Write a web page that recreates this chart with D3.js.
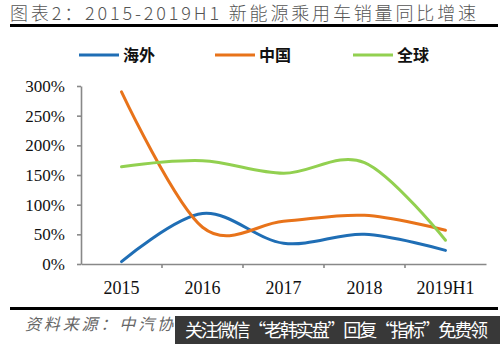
<!DOCTYPE html>
<html><head><meta charset="utf-8">
<script src="https://cdn.jsdelivr.net/npm/d3@7"></script>
<style>
html,body{margin:0;padding:0;background:#fff;}
svg{display:block;}
</style></head>
<body>
<svg id="chart" width="500" height="344"></svg>
<script>
const categories = ["2015", "2016", "2017", "2018", "2019H1"];
const overseas = [4, 85, 35, 50, 23];
const china = [290, 62, 72, 82, 57];
const world = [164, 174, 153, 171, 40];
const yTicks = [0, 50, 100, 150, 200, 250, 300];
const seriesNames = ["海外", "中国", "全球"];
const seriesColors = ["#1F6EB5", "#E8731A", "#92D050"];

const svg = d3.select("#chart");
const plot = {left: 81, right: 486, top: 86, bottom: 264};

// title
svg.append("text")
  .attr("x", 10).attr("y", 20)
  .attr("textLength", 466).attr("lengthAdjust", "spacing")
  .style("font-family", "'Noto Sans CJK SC', sans-serif")
  .style("font-size", "18px").style("font-weight", "300").style("fill", "#555")
  .text("图表2：2015-2019H1 新能源乘用车销量同比增速");
svg.append("rect").attr("x", 10).attr("y", 24).attr("width", 488).attr("height", 3).attr("fill", "#000");

// scales
const x = d3.scaleBand().domain(categories).range([plot.left, plot.right]).padding(0);
const y = d3.scaleLinear().domain([0, 300]).range([plot.bottom, plot.top]);

// y axis
const yAxis = svg.append("g").attr("transform", `translate(${plot.left},0)`)
  .call(d3.axisLeft(y).tickValues(yTicks).tickFormat(d => d + "%").tickSize(4).tickPadding(12).tickSizeOuter(0));
yAxis.selectAll("path,line").attr("stroke", "#888").attr("stroke-width", 1.6);
yAxis.selectAll("text").style("font-family", "'Liberation Serif', serif").style("font-size", "17px").style("fill", "#111");

// x axis
const xAxis = svg.append("g").attr("transform", `translate(0,${plot.bottom})`)
  .call(d3.axisBottom(x).tickSize(0).tickPadding(17).tickSizeOuter(0));
xAxis.select("path").attr("stroke", "#888").attr("stroke-width", 1.6);
xAxis.selectAll("text").style("font-family", "'Liberation Serif', serif").style("font-size", "18px").style("fill", "#111");
xAxis.selectAll(".bt").data(categories.slice(1)).enter().append("line")
  .attr("x1", d => x(d)).attr("x2", d => x(d)).attr("y1", 0).attr("y2", 4)
  .attr("stroke", "#888").attr("stroke-width", 1.6);

// lines
const allSeries = [overseas, china, world];
const line = d3.line().x((d, i) => x(categories[i]) + x.bandwidth() / 2).y(d => y(d)).curve(d3.curveCardinal.tension(0));
allSeries.forEach((s, k) => {
  svg.append("path").datum(s).attr("d", line)
    .attr("fill", "none").attr("stroke", seriesColors[k]).attr("stroke-width", 3)
    .attr("stroke-linecap", "round").attr("stroke-linejoin", "round");
});

// legend
const legendX = [79, 215, 353];
seriesNames.forEach((n, k) => {
  const g = svg.append("g").attr("transform", `translate(${legendX[k]},55)`);
  g.append("line").attr("x1", 0).attr("x2", 40).attr("y1", 0).attr("y2", 0)
    .attr("stroke", seriesColors[k]).attr("stroke-width", 3);
  g.append("text").attr("x", 44).attr("y", 6)
    .style("font-family", "'Noto Sans CJK SC', sans-serif").style("font-weight", "bold")
    .style("font-size", "16px").style("fill", "#111").text(n);
});

// bottom rule and source
svg.append("rect").attr("x", 10).attr("y", 307).attr("width", 488).attr("height", 3).attr("fill", "#000");
svg.append("text").attr("x", 25).attr("y", 330)
  .attr("textLength", 148).attr("lengthAdjust", "spacing")
  .style("font-family", "'Noto Sans CJK SC', sans-serif").style("font-style", "italic")
  .style("font-size", "16px").style("fill", "#666")
  .text("资料来源：中汽协");
svg.append("rect").attr("x", 175).attr("y", 316).attr("width", 325).attr("height", 28).attr("fill", "#383838");
svg.append("text").attr("x", 185).attr("y", 337)
  .attr("textLength", 303).attr("lengthAdjust", "spacing")
  .style("font-family", "'Noto Sans CJK SC', sans-serif")
  .style("font-size", "18px").style("fill", "#fff")
  .text("关注微信“老韩实盘”回复“指标”免费领");
</script>
</body></html>
